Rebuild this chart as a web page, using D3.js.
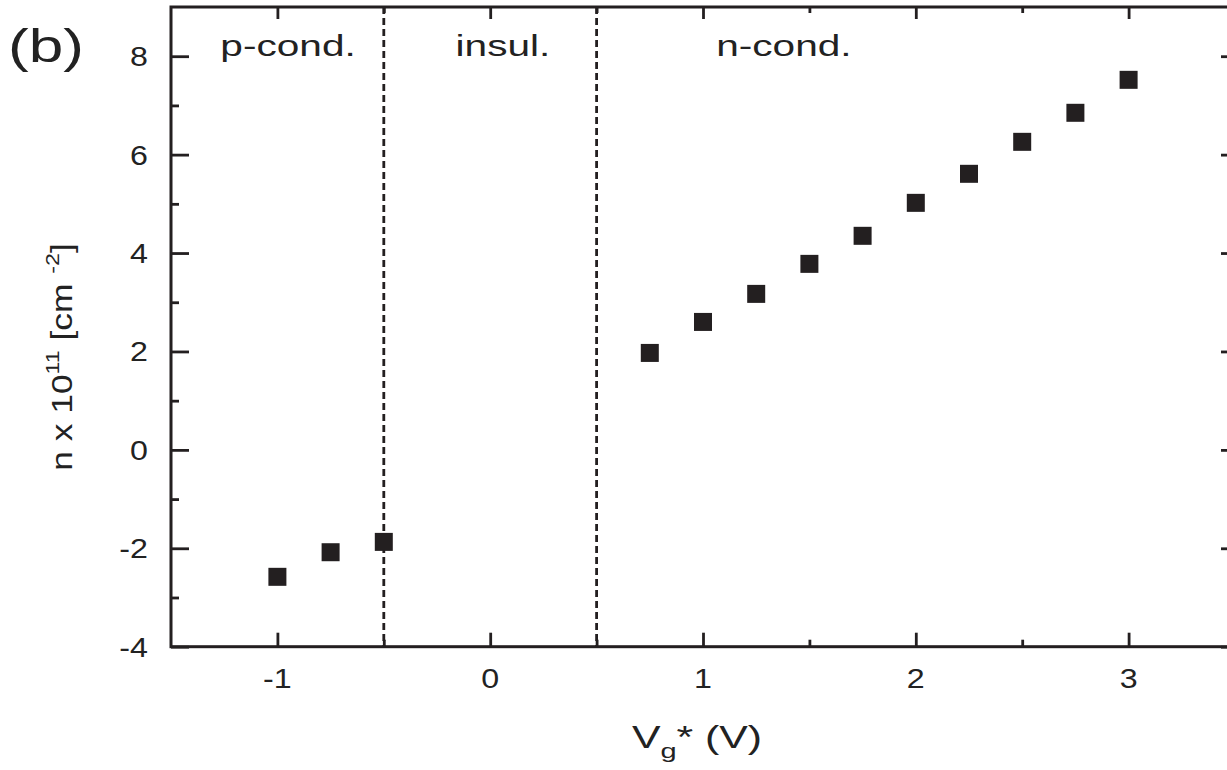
<!DOCTYPE html>
<meta charset="utf-8">
<title>n vs Vg*</title>
<style>

body {
  margin: 0;
  background: #fff;
}

svg {
  display: block;
}

text {
  font-family: "Liberation Sans", Arial, sans-serif;
  fill: #222;
}

.tick line {
  stroke: #231f20;
  stroke-width: 2.8px;
}

.frame {
  fill: none;
  stroke: #231f20;
  stroke-width: 3px;
}

.divider {
  stroke: #231f20;
  stroke-width: 2.8px;
  stroke-dasharray: 7,4;
}

.pt {
  fill: #231f20;
}

</style>
<body>
<script src="https://d3js.org/d3.v7.min.js"></script>
<script>

// gate voltage Vg* (V) and carrier density n (1e11 cm^-2)
var vg      = [-1, -0.75, -0.5, 0.75, 1, 1.25, 1.5, 1.75, 2, 2.25, 2.5, 2.75, 3];
var density = [-2.58, -2.08, -1.87, 1.97, 2.6, 3.17, 3.78, 4.35, 5.02, 5.61, 6.26, 6.85, 7.52];

var xMajor = [-1, 0, 1, 2, 3],
    xMinor = [-0.5, 0.5, 1.5, 2.5],
    yMajor = [-4, -2, 0, 2, 4, 6, 8],
    yMinor = [-3, -1, 1, 3, 5, 7];

// regime boundaries and region names (name anchored at a Vg* value)
var boundaries  = [-0.5, 0.5];
var regionNames = ["p-cond.", "insul.", "n-cond."],
    regionAt    = [-0.95, 0.06, 1.38];

var width = 1227,
    height = 770;

var x = d3.scaleLinear().domain([-1.5, 3.5]).range([171, 1235]),
    y = d3.scaleLinear().domain([-4, 9]).range([646.7, 7]);

var svg = d3.select("body").append("svg")
    .attr("width", width)
    .attr("height", height);

function label(parent, px, py, anchor, size, sx, rot) {
  return parent.append("text")
      .attr("transform", "translate(" + px + "," + py + ")" + (rot ? "rotate(" + rot + ")" : "") + "scale(" + sx + ",1)")
      .attr("text-anchor", anchor)
      .style("font-size", size + "px");
}

// ticks, all pointing inward
function ticks(axis, values, size, tx, ty) {
  var g = svg.append("g")
      .attr("transform", "translate(" + tx + "," + ty + ")")
      .call(axis.tickValues(values).tickSize(-size).tickFormat(""));
  g.select(".domain").remove();
}

var yBottom = y(-4), yTop = y(9), xLeft = x(-1.5), xRight = x(3.5);

ticks(d3.axisBottom(x), xMajor, 14, 0, yBottom);
ticks(d3.axisBottom(x), xMinor, 7, 0, yBottom);
ticks(d3.axisTop(x), xMajor, 12, 0, yTop);
ticks(d3.axisTop(x), xMinor, 6, 0, yTop);
ticks(d3.axisLeft(y), yMajor, 18, xLeft, 0);
ticks(d3.axisLeft(y), yMinor, 8, xLeft, 0);
ticks(d3.axisRight(y), yMajor, 14, xRight, 0);
ticks(d3.axisRight(y), yMinor, 7, xRight, 0);

svg.append("rect")
    .attr("class", "frame")
    .attr("x", xLeft)
    .attr("y", yTop)
    .attr("width", xRight - xLeft)
    .attr("height", yBottom - yTop);

svg.selectAll(".divider")
    .data(boundaries)
  .enter().append("line")
    .attr("class", "divider")
    .attr("x1", function(d) { return x(d); })
    .attr("x2", function(d) { return x(d); })
    .attr("y1", yTop)
    .attr("y2", yBottom);

// tick labels
xMajor.forEach(function(v) {
  label(svg, x(v), yBottom + 41, "middle", 28, 1.15).text(v < 0 ? "-" + Math.abs(v) : v);
});
yMajor.forEach(function(v) {
  label(svg, xLeft - 23, y(v) + 10, "end", 28, 1.15).text(v < 0 ? "-" + Math.abs(v) : v);
});

// region names
regionNames.forEach(function(name, i) {
  label(svg, x(regionAt[i]), 56, "middle", 29, 1.4).text(name);
});

// points
var s = 18;
svg.selectAll(".pt")
    .data(vg)
  .enter().append("rect")
    .attr("class", "pt")
    .attr("x", function(d) { return x(d) - s / 2; })
    .attr("y", function(d, i) { return y(density[i]) - s / 2; })
    .attr("width", s)
    .attr("height", s);

// axis titles
var xt = label(svg, (xLeft + xRight) / 2 - 6, 748, "middle", 31, 1.38);
xt.append("tspan").text("V");
xt.append("tspan").attr("dy", 10).style("font-size", "21px").text("g");
xt.append("tspan").attr("dy", -10).text("* (V)");

var yt = label(svg, 72, 357, "middle", 29, 1.22, -90);
yt.append("tspan").text("n x 10");
yt.append("tspan").attr("dy", -13).style("font-size", "19px").text("11");
yt.append("tspan").attr("dy", 13).text(" [cm ");
yt.append("tspan").attr("dy", -13).style("font-size", "19px").text("-2");
yt.append("tspan").attr("dy", 13).text("]");

label(svg, 8, 62, "start", 46, 1.35).text("(b)");

</script>
</body>
